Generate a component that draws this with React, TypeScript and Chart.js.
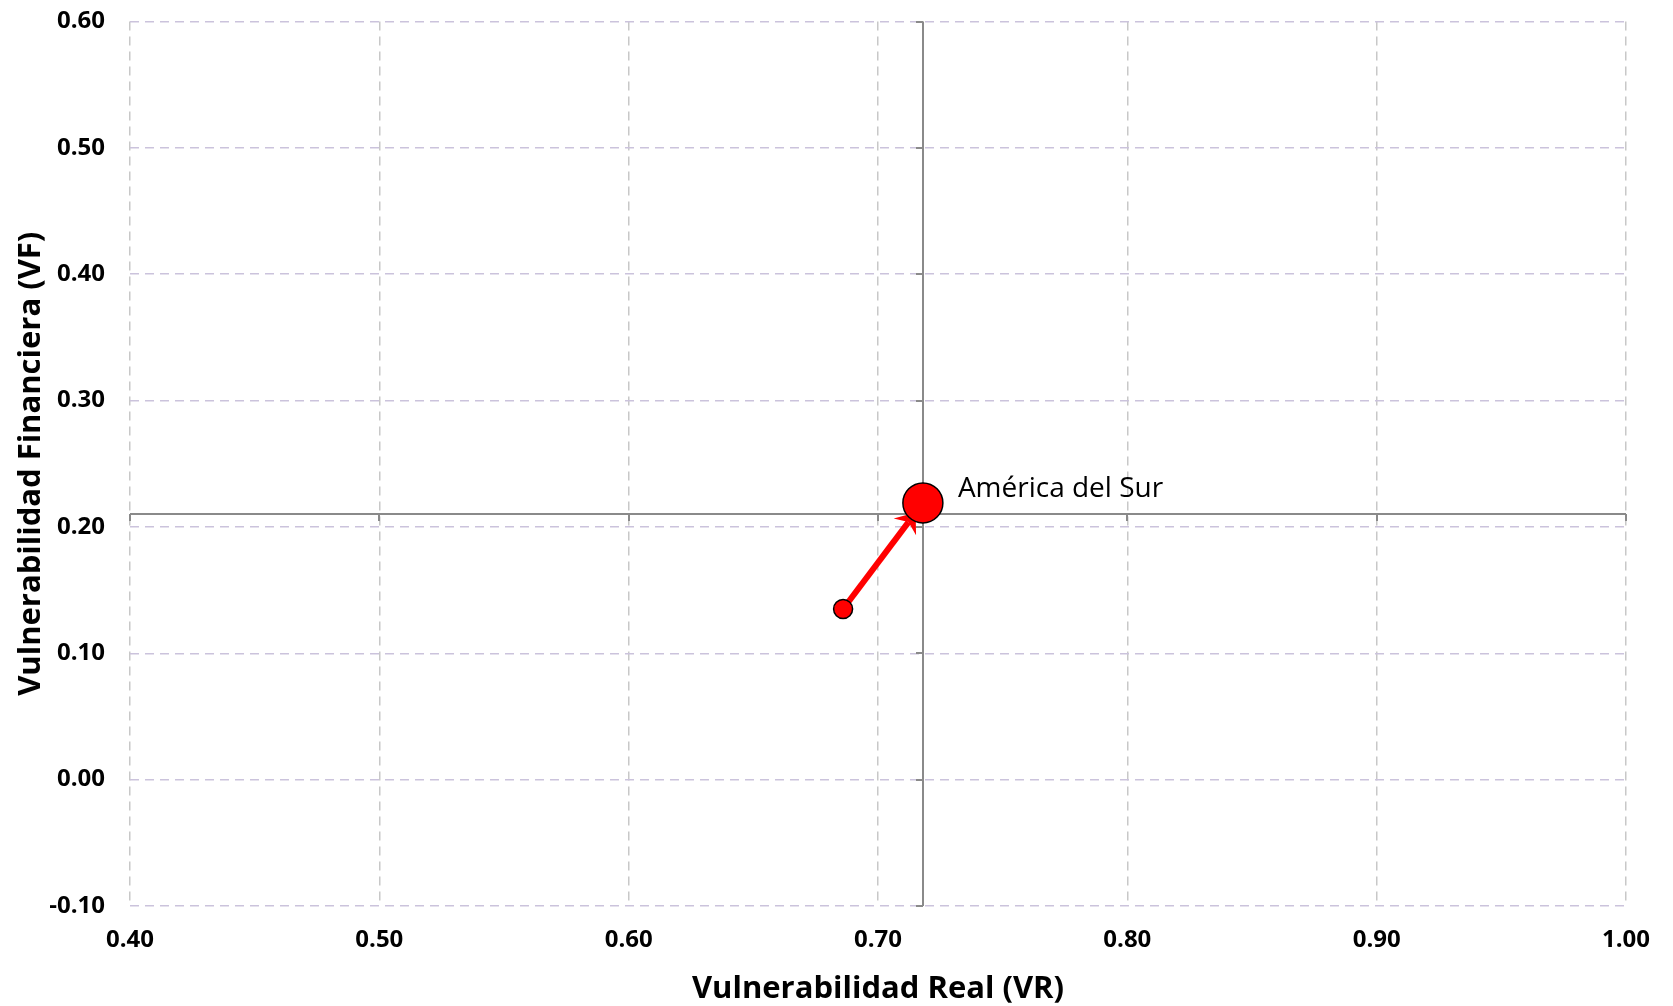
import React, { useEffect, useRef } from "react";
import { Chart, registerables } from "chart.js";

Chart.register(...registerables);

// ---- data ----
const vrValues = [0.686, 0.718]; // Vulnerabilidad Real (start, end)
const vfValues = [0.135, 0.219]; // Vulnerabilidad Financiera (start, end)
const pointLabels = ["", "América del Sur"];
const vrReference = 0.718;
const vfReference = 0.21;
const xTickValues = [0.4, 0.5, 0.6, 0.7, 0.8, 0.9, 1.0];
const yTickValues = [-0.1, 0.0, 0.1, 0.2, 0.3, 0.4, 0.5, 0.6];
const xTitle = "Vulnerabilidad Real (VR)";
const yTitle = "Vulnerabilidad Financiera (VF)";

const FONT = "'Open Sans', 'DejaVu Sans', sans-serif";

const overlayPlugin = {
  id: "overlay",
  beforeDatasetsDraw(chart: any) {
    const { ctx, chartArea, scales } = chart;
    const x = scales.x;
    const y = scales.y;
    const rx = Math.round(x.getPixelForValue(vrReference));
    const ry = Math.round(y.getPixelForValue(vfReference));
    ctx.save();
    ctx.strokeStyle = "#8a8a8a";
    ctx.lineWidth = 2;
    ctx.setLineDash([]);
    ctx.beginPath();
    ctx.moveTo(chartArea.left, ry);
    ctx.lineTo(chartArea.right, ry);
    ctx.moveTo(rx, chartArea.top);
    ctx.lineTo(rx, chartArea.bottom);
    for (const v of xTickValues) {
      const px = Math.round(x.getPixelForValue(v));
      ctx.moveTo(px, ry);
      ctx.lineTo(px, ry + 7);
    }
    for (const v of yTickValues) {
      const py = Math.round(y.getPixelForValue(v));
      ctx.moveTo(rx - 7, py);
      ctx.lineTo(rx, py);
    }
    ctx.stroke();

    // arrow from start point to end point
    const meta = chart.getDatasetMeta(0);
    const a = meta.data[0];
    const b = meta.data[1];
    const dx = b.x - a.x;
    const dy = b.y - a.y;
    const len = Math.hypot(dx, dy);
    const ux = dx / len;
    const uy = dy / len;
    const nx = -uy;
    const ny = ux;
    const tipBack = 12;
    const barbBack = 30;
    const notchBack = 24;
    const half = 14;
    const tip = { x: b.x - ux * tipBack, y: b.y - uy * tipBack };
    const barbC = { x: b.x - ux * barbBack, y: b.y - uy * barbBack };
    const notch = { x: b.x - ux * notchBack, y: b.y - uy * notchBack };
    ctx.strokeStyle = "#ff0000";
    ctx.fillStyle = "#ff0000";
    ctx.lineWidth = 6;
    ctx.beginPath();
    ctx.moveTo(a.x, a.y);
    ctx.lineTo(notch.x, notch.y);
    ctx.stroke();
    ctx.beginPath();
    ctx.moveTo(tip.x, tip.y);
    ctx.lineTo(barbC.x + nx * half, barbC.y + ny * half);
    ctx.lineTo(notch.x, notch.y);
    ctx.lineTo(barbC.x - nx * half, barbC.y - ny * half);
    ctx.closePath();
    ctx.fill();
    ctx.restore();
  },
  afterDatasetsDraw(chart: any) {
    const { ctx } = chart;
    const meta = chart.getDatasetMeta(0);
    ctx.save();
    ctx.fillStyle = "#000000";
    ctx.font = `28px ${FONT}`;
    ctx.textAlign = "left";
    ctx.textBaseline = "alphabetic";
    meta.data.forEach((el: any, i: number) => {
      const label = pointLabels[i];
      if (!label) return;
      ctx.fillText(label, el.x + 35, el.y - 6);
    });
    ctx.restore();
  },
};

export default function App() {
  const canvasRef = useRef<HTMLCanvasElement | null>(null);

  useEffect(() => {
    document.body.style.margin = "0";
    const canvas = canvasRef.current;
    if (!canvas) return;
    const chart = new Chart(canvas, {
      type: "scatter",
      data: {
        datasets: [
          {
            label: "América del Sur",
            data: vrValues.map((v, i) => ({ x: v, y: vfValues[i] })),
            backgroundColor: "#ff0000",
            borderColor: "#000000",
            borderWidth: 1.5,
            pointRadius: [9.5, 20],
            pointHoverRadius: [9.5, 20],
            showLine: false,
          },
        ],
      },
      options: {
        animation: false,
        responsive: false,
        maintainAspectRatio: false,
        events: [],
        layout: { padding: { left: 0, right: 47, top: 19, bottom: 0 } },
        plugins: {
          legend: { display: false },
          tooltip: { enabled: false },
          title: { display: false },
        },
        scales: {
          x: {
            type: "linear",
            min: 0.4,
            max: 1.0,
            afterBuildTicks: (scale: any) => {
              scale.ticks = xTickValues.map((v) => ({ value: v }));
            },
            afterFit: (scale: any) => {
              scale.height = 100;
              scale.paddingLeft = 0;
              scale.paddingRight = 0;
            },
            grid: {
              color: "#c8c8c8",
              lineWidth: 1.5,
              drawTicks: false,
            },
            border: { display: false, dash: [9, 6] },
            ticks: {
              color: "#000000",
              font: { family: FONT, size: 24, weight: "bold" },
              padding: 20,
              callback: (v: any) => Number(v).toFixed(2),
            },
            title: {
              display: true,
              text: xTitle,
              color: "#000000",
              font: { family: FONT, size: 31, weight: "bold", lineHeight: 1.1 },
              padding: { top: 0, bottom: 0 },
            },
          },
          y: {
            type: "linear",
            min: -0.1,
            max: 0.6,
            afterBuildTicks: (scale: any) => {
              scale.ticks = yTickValues.map((v) => ({ value: v }));
            },
            afterFit: (scale: any) => {
              scale.width = 130;
              scale.paddingTop = 0;
              scale.paddingBottom = 0;
            },
            grid: {
              color: "#cbc3dc",
              lineWidth: 1.5,
              drawTicks: false,
            },
            border: { display: false, dash: [9, 6] },
            ticks: {
              color: "#000000",
              font: { family: FONT, size: 24, weight: "bold" },
              padding: 25,
              callback: (v: any) => Number(v).toFixed(2),
            },
            title: {
              display: true,
              text: yTitle,
              color: "#000000",
              font: { family: FONT, size: 31, weight: "bold", lineHeight: 1.1 },
              padding: { top: 14, bottom: 0 },
            },
          },
        },
      } as any,
      plugins: [overlayPlugin],
    });
    return () => chart.destroy();
  }, []);

  return (
    <div style={{ width: 1673, height: 1006, overflow: "hidden", background: "#ffffff" }}>
      <canvas ref={canvasRef} width={1673} height={1006} style={{ display: "block" }} />
    </div>
  );
}
